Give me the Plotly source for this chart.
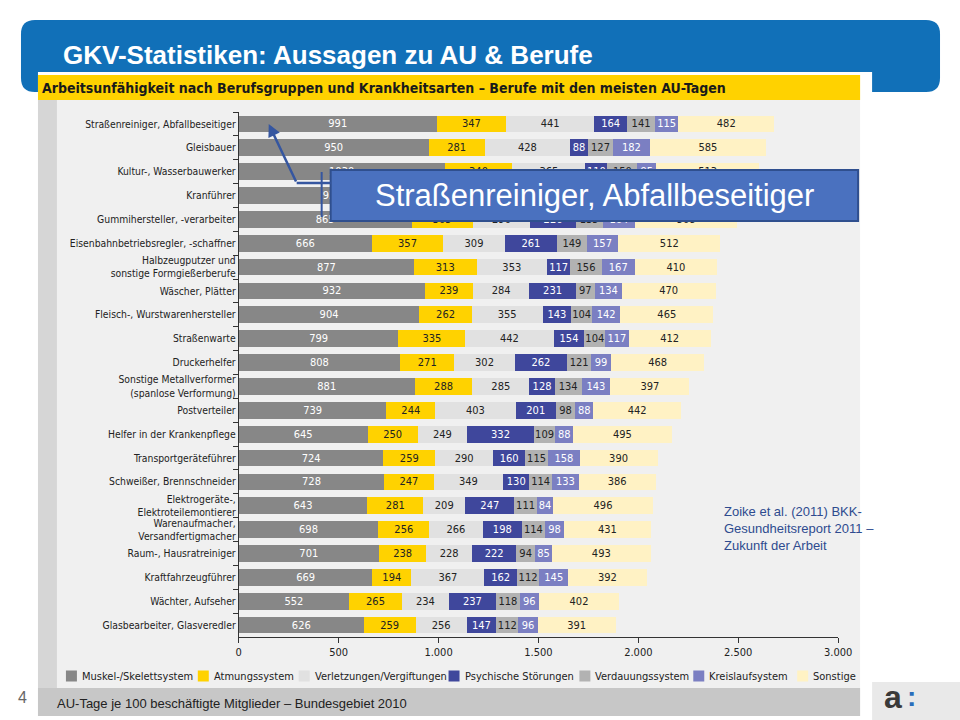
import plotly.graph_objects as go

categories = [
    "Straßenreiniger, Abfallbeseitiger",
    "Gleisbauer",
    "Kultur-, Wasserbauwerker",
    "Kranführer",
    "Gummihersteller, -verarbeiter",
    "Eisenbahnbetriebsregler, -schaffner",
    "Halbzeugputzer und<br>sonstige Formgießerberufe",
    "Wäscher, Plätter",
    "Fleisch-, Wurstwarenhersteller",
    "Straßenwarte",
    "Druckerhelfer",
    "Sonstige Metallverformer<br>(spanlose Verformung)",
    "Postverteiler",
    "Helfer in der Krankenpflege",
    "Transportgeräteführer",
    "Schweißer, Brennschneider",
    "Elektrogeräte-,<br>Elektroteilemontierer",
    "Warenaufmacher,<br>Versandfertigmacher",
    "Raum-, Hausratreiniger",
    "Kraftfahrzeugführer",
    "Wächter, Aufseher",
    "Glasbearbeiter, Glasveredler",
]

muskel = [991, 950, 1030, 935, 865, 666, 877, 932, 904, 799, 808, 881, 739, 645, 724, 728, 643, 698, 701, 669, 552, 626]
atmung = [347, 281, 340, 290, 305, 357, 313, 239, 262, 335, 271, 288, 244, 250, 259, 247, 281, 256, 238, 194, 265, 259]
verletzung = [441, 428, 365, 420, 290, 309, 353, 284, 355, 442, 302, 285, 403, 249, 290, 349, 209, 266, 228, 367, 234, 256]
psyche = [164, 88, 110, 150, 226, 261, 117, 231, 143, 154, 262, 128, 201, 332, 160, 130, 247, 198, 222, 162, 237, 147]
verdauung = [141, 127, 150, 140, 135, 149, 156, 97, 104, 104, 121, 134, 98, 109, 115, 114, 111, 114, 94, 112, 118, 112]
kreislauf = [115, 182, 95, 145, 164, 157, 167, 134, 142, 117, 99, 143, 88, 88, 158, 133, 84, 98, 85, 145, 96, 96]
sonstige = [482, 585, 513, 470, 508, 512, 410, 470, 465, 412, 468, 397, 442, 495, 390, 386, 496, 431, 493, 392, 402, 391]

series_names = ["Muskel-/Skelettsystem", "Atmungssystem", "Verletzungen/Vergiftungen",
                "Psychische Störungen", "Verdauungssystem", "Kreislaufsystem", "Sonstige"]

x_ticks = [0, 500, 1000, 1500, 2000, 2500, 3000]

FONT = "Liberation Sans Narrow, DejaVu Sans Condensed, Roboto Condensed, Arial Narrow, sans-serif"
SANS = "Liberation Sans, Arial, sans-serif"

# target picture is 960 px wide; the layout width is set slightly larger
W_REF, H = 960, 720
W = 976
def px(x):
    return (x - 2) / W_REF
def py(y):
    return 1 - y / H

colors = ["#878787", "#ffd200", "#e1e1e1", "#3f479c", "#b2b2b2", "#7b7fc2", "#fff2c4"]
text_colors = ["white", "#222222", "#222222", "white", "#222222", "white", "#222222"]
values = [muskel, atmung, verletzung, psyche, verdauung, kreislauf, sonstige]

fig = go.Figure()
for name, vals, color, tcolor in zip(series_names, values, colors, text_colors):
    fig.add_trace(go.Bar(
        y=categories, x=vals, name=name, orientation="h",
        marker=dict(color=color, line=dict(width=0)),
        text=vals, textposition="inside", insidetextanchor="middle", textangle=0,
        textfont=dict(color=tcolor, size=11, family=FONT),
        hoverinfo="skip", showlegend=False,
    ))

fig.update_layout(
    barmode="stack", bargap=0.3,
    autosize=False, width=W, height=H, margin=dict(l=0, r=0, t=0, b=0),
    paper_bgcolor="white", plot_bgcolor="rgba(0,0,0,0)",
    separators=",.",
    uniformtext=dict(minsize=11, mode="show"),
    showlegend=False,
)

fig.update_xaxes(
    domain=[px(238), px(838)], range=[0, 3000], tickvals=x_ticks, tickformat=",",
    showline=True, linecolor="#333333", linewidth=1, ticks="outside", ticklen=5,
    tickcolor="#333333", showgrid=False, zeroline=False,
    tickfont=dict(size=11, family=FONT, color="#222222"),
)
fig.update_yaxes(
    domain=[py(637), py(112)], autorange="reversed", type="category",
    showline=True, linecolor="#333333", linewidth=1, ticks="outside", ticklen=5,
    tickcolor="#333333", tickson="boundaries", showgrid=False,
    tickfont=dict(size=10.3, family=FONT, color="#222222"),
)

def rect(x0, y0, x1, y1, fill, layer="below", line=None):
    d = dict(type="rect", xref="paper", yref="paper",
             x0=px(x0), x1=px(x1), y0=py(y1), y1=py(y0),
             fillcolor=fill, layer=layer, line=dict(width=0))
    if line:
        d["line"] = line
    return d

def rounded(x0, y0, x1, y1, r, fill):
    X0, X1 = px(x0), px(x1)
    Y0, Y1 = py(y1), py(y0)
    rx, ry = r / W_REF, r / H
    path = (f"M {X0+rx},{Y1} L {X1-rx},{Y1} Q {X1},{Y1} {X1},{Y1-ry} "
            f"L {X1},{Y0+ry} Q {X1},{Y0} {X1-rx},{Y0} L {X0+rx},{Y0} "
            f"Q {X0},{Y0} {X0},{Y0+ry} L {X0},{Y1-ry} Q {X0},{Y1} {X0+rx},{Y1} Z")
    return dict(type="path", xref="paper", yref="paper", path=path,
                fillcolor=fill, line=dict(width=0), layer="below")

def seg(x0, y0, x1, y1, color, width):
    return dict(type="line", xref="paper", yref="paper",
                x0=px(x0), y0=py(y0), x1=px(x1), y1=py(y1),
                line=dict(color=color, width=width), layer="above")

shapes = [
    rounded(20, 20, 940, 92, 14, "#1170b8"),
    rect(37, 72, 872, 720, "white"),
    rect(37, 75, 860, 100, "#ffd200"),
    rect(37, 100, 860, 688, "#f0f0f0"),
    rect(37, 100, 56, 688, "#d6d6d6"),
    rect(37, 688, 860, 716, "#c7c7c7"),
    rect(872, 682, 962, 720, "#e9e9e9"),
    rect(330, 170, 858, 221, "#4a71bf", layer="above", line=dict(color="#2f4f8e", width=2)),
    seg(321, 172, 321, 217, "#3556a0", 2),
    seg(296, 183, 330, 183, "#3556a0", 2.5),
]

legend_sq_x = [65, 197, 298, 448, 579, 693, 797]
legend_y = 676
for sx, c in zip(legend_sq_x, colors):
    shapes.append(rect(sx, legend_y - 5.5, sx + 11, legend_y + 5.5, c))

annotations = [
    dict(text="<b>GKV-Statistiken: Aussagen zu AU &amp; Berufe</b>", x=px(60), y=py(55),
         xref="paper", yref="paper", xanchor="left", yanchor="middle", showarrow=False,
         font=dict(size=26, family=SANS, color="white")),
    dict(text="<b>Arbeitsunfähigkeit nach Berufsgruppen und Krankheitsarten – Berufe mit den meisten AU-Tagen</b>",
         x=px(39), y=py(87.5), xref="paper", yref="paper", xanchor="left", yanchor="middle",
         showarrow=False, font=dict(size=14, family=FONT, color="#1a1a1a")),
    dict(text="AU-Tage je 100 beschäftigte Mitglieder – Bundesgebiet 2010", x=px(54), y=py(703),
         xref="paper", yref="paper", xanchor="left", yanchor="middle", showarrow=False,
         font=dict(size=13, family=SANS, color="#222222")),
    dict(text="Zoike et al. (2011) BKK-<br>Gesundheitsreport 2011 –<br>Zukunft der Arbeit",
         x=px(722), y=py(528), xref="paper", yref="paper", xanchor="left", yanchor="middle",
         align="left", showarrow=False, font=dict(size=13, family=SANS, color="#2e4b8f")),
    dict(text="Straßenreiniger, Abfallbeseitiger", x=px(594), y=py(196),
         xref="paper", yref="paper", xanchor="center", yanchor="middle", showarrow=False,
         font=dict(size=31, family=SANS, color="white")),
    dict(text="", x=px(268), y=py(124), xref="paper", yref="paper",
         showarrow=True, ax=28, ay=59, arrowhead=2, arrowsize=1, arrowwidth=2.5,
         arrowcolor="#3556a0"),
    dict(text="4", x=px(22), y=py(697), xref="paper", yref="paper", xanchor="center",
         yanchor="middle", showarrow=False, font=dict(size=16, family=SANS, color="#666666")),
    dict(text="<b>a</b>", x=px(893), y=py(697), xref="paper", yref="paper", xanchor="center",
         yanchor="middle", showarrow=False, font=dict(size=32, family=SANS, color="#3a3a3a")),
    dict(text="<b>:</b>", x=px(911), y=py(696), xref="paper", yref="paper", xanchor="center",
         yanchor="middle", showarrow=False, font=dict(size=28, family=SANS, color="#2a6ebb")),
]
for sx, name in zip(legend_sq_x, series_names):
    annotations.append(dict(text=name, x=px(sx + 14), y=py(legend_y), xref="paper", yref="paper",
                            xanchor="left", yanchor="middle", showarrow=False,
                            font=dict(size=11, family=FONT, color="#222222")))

fig.update_layout(shapes=shapes, annotations=annotations)
fig.write_html("out.html",
               config={"responsive": False, "displayModeBar": False},
               post_script="document.body.style.margin='0';document.body.style.overflow='hidden';")
